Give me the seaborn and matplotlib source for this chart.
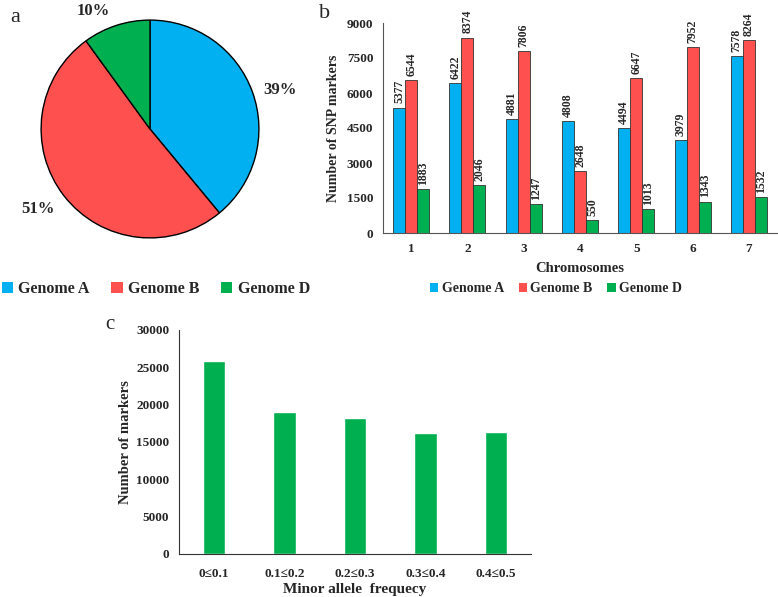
import pandas as pd
import matplotlib
matplotlib.use("Agg")
import matplotlib.pyplot as plt
import seaborn as sns
from matplotlib.patches import Patch

# data
genomes = ["Genome A", "Genome B", "Genome D"]
genome_pct = [39, 51, 10]
colors = ["#00B0F0", "#FF5050", "#00B050"]

chromosomes = ["1", "2", "3", "4", "5", "6", "7"]
snp_a = [5377, 6422, 4881, 4808, 4494, 3979, 7578]
snp_b = [6544, 8374, 7806, 2648, 6647, 7952, 8264]
snp_d = [1883, 2046, 1247, 550, 1013, 1343, 1532]

maf_bins = ["0≤0.1", "0.1≤0.2", "0.2≤0.3", "0.3≤0.4", "0.4≤0.5"]
maf_counts = [25900, 19000, 18270, 16180, 16300]

# where the percent labels of the pie sit (layout only)
pct_label_pos = [(1.19, 0.36), (-1.03, -0.73), (-0.52, 1.08)]

sns.set_style("white")
plt.rcParams["font.family"] = ["Liberation Serif", "DejaVu Serif"]
plt.rcParams["font.weight"] = "bold"

W, H = 778, 597
fig = plt.figure(figsize=(W / 100, H / 100), dpi=100)


def box(l, t, r, b):
    return [l / W, 1 - b / H, (r - l) / W, (b - t) / H]


# a) pie
ax_a = fig.add_axes(box(40, 19, 260, 239))
wedges, _, pcts = ax_a.pie(genome_pct, colors=colors, startangle=90, counterclock=False,
                           autopct="%.0f%%", pctdistance=1.2,
                           wedgeprops=dict(edgecolor="black", linewidth=1.0))
for t, pos in zip(pcts, pct_label_pos):
    t.set_position(pos)
    t.set_fontsize(12)
    t.set_fontweight("bold")
    t.set_clip_on(False)
ax_a.set_xlim(-1.01, 1.01)
ax_a.set_ylim(-1.01, 1.01)
handles = [Patch(facecolor=c, edgecolor="none") for c in colors]
fig.legend(handles, genomes, loc="center", bbox_to_anchor=(156 / W, 1 - 289 / H), ncol=3,
           frameon=False, prop=dict(size=11.5, weight="bold"), handlelength=0.7,
           handleheight=0.7, handletextpad=0.35, columnspacing=1.35)
fig.text(15 / W, 1 - 17 / H, "a", fontsize=16, fontweight="normal", ha="center", va="center")

# b) SNP markers per chromosome
ax_b = fig.add_axes(box(383, 23, 777, 233))
df_b = pd.DataFrame({
    "Chromosome": chromosomes * 3,
    "Genome": sum([[g] * len(chromosomes) for g in genomes], []),
    "Count": snp_a + snp_b + snp_d,
})
sns.barplot(data=df_b, x="Chromosome", y="Count", hue="Genome", palette=colors,
            saturation=1, width=0.64, edgecolor="#333333", linewidth=0.6, ax=ax_b,
            legend=False)
for cont in ax_b.containers:
    ax_b.bar_label(cont, fmt="%d", rotation=90, padding=3, fontsize=8.5, fontweight="bold")
ax_b.set_ylim(0, 9000)
ax_b.set_yticks(range(0, 9001, 1500))
ax_b.set_xlim(-0.5, 6.5)
ax_b.set_xlabel("Chromosomes", fontsize=10.5, fontweight="bold", labelpad=5)
ax_b.set_ylabel("Number of SNP markers", fontsize=10, fontweight="bold", labelpad=5)
ax_b.tick_params(labelsize=9.5, length=0, pad=7)
for lab in ax_b.get_xticklabels() + ax_b.get_yticklabels():
    lab.set_fontweight("bold")
for s in ["top", "right"]:
    ax_b.spines[s].set_visible(False)
for s in ["left", "bottom"]:
    ax_b.spines[s].set_color("#555555")
    ax_b.spines[s].set_linewidth(0.8)
fig.legend(handles, genomes, loc="center", bbox_to_anchor=(556 / W, 1 - 289 / H), ncol=3,
           frameon=False, prop=dict(size=10, weight="bold"), handlelength=0.6,
           handleheight=0.6, handletextpad=0.25, columnspacing=1.05)
fig.text(325 / W, 1 - 13 / H, "b", fontsize=16, fontweight="normal", ha="center", va="center")

# c) minor allele frequency
ax_c = fig.add_axes(box(179, 330, 531, 554))
df_c = pd.DataFrame({"MAF": maf_bins, "Count": maf_counts})
sns.barplot(data=df_c, x="MAF", y="Count", color="#00B050", saturation=1, width=0.32, ax=ax_c)
ax_c.set_ylim(0, 30000)
ax_c.set_yticks(range(0, 30001, 5000))
ax_c.set_xlim(-0.5, 4.5)
ax_c.set_xlabel("Minor allele  frequecy", fontsize=11, fontweight="bold", labelpad=2)
ax_c.set_ylabel("Number of markers", fontsize=10.5, fontweight="bold", labelpad=3)
ax_c.tick_params(axis="y", labelsize=9.5, length=0, pad=7)
ax_c.tick_params(axis="x", labelsize=9.5, length=0, pad=10)
for lab in ax_c.get_xticklabels() + ax_c.get_yticklabels():
    lab.set_fontweight("bold")
for s in ["top", "right"]:
    ax_c.spines[s].set_visible(False)
for s in ["left", "bottom"]:
    ax_c.spines[s].set_color("#333333")
    ax_c.spines[s].set_linewidth(0.8)
fig.text(110 / W, 1 - 325 / H, "c", fontsize=15, fontweight="normal", ha="center", va="center")

fig.savefig("out.png", dpi=100)
plt.close(fig)
